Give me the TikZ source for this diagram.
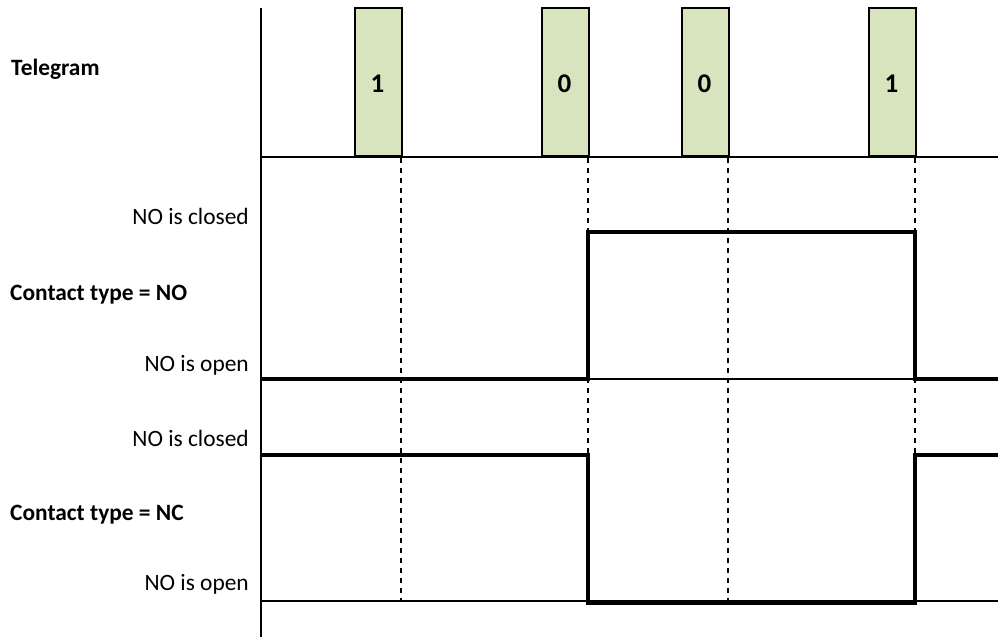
\documentclass[tikz,border=0pt]{standalone}
\usepackage{fontspec}
\setmainfont{Carlito}
\definecolor{boxgreen}{HTML}{D7E4BD}
\tikzset{
  thin line/.style={line width=2.2pt, draw=black},
  signal/.style={line width=4.4pt, draw=black, line join=miter},
  marker/.style={line width=2.2pt, draw=black, dash pattern=on 4.5pt off 5.5pt},
  bitbox/.style={draw=black, line width=2.2pt, fill=boxgreen, minimum width=47pt, minimum height=148pt, inner sep=0pt, anchor=south west},
  bit/.style={font=\fontsize{27}{32}\selectfont\bfseries, inner sep=0pt, anchor=base},
  lvl/.style={font=\fontsize{23.4}{28}\selectfont, inner sep=0pt, anchor=base east},
  head/.style={font=\fontsize{23.4}{28}\selectfont\bfseries, inner sep=0pt, anchor=base west},
}
\begin{document}
\begin{tikzpicture}[x=1pt, y=-1pt]
\useasboundingbox (0,0) rectangle (998,637);
% bit boxes
\node[bitbox] (b1) at (354,157) {};
\node[bitbox] (b2) at (541,157) {};
\node[bitbox] (b3) at (681,157) {};
\node[bitbox] (b4) at (868,157) {};
\node[bit] (d1) at (377.5,92.7) {1};
\node[bit] (d2) at (564.5,92.7) {0};
\node[bit] (d3) at (704.5,92.7) {0};
\node[bit] (d4) at (891.5,92.7) {1};
% axes
\coordinate (axtop) at (261,8);
\coordinate (axbot) at (261,637);
\coordinate (t0) at (261,157);
\coordinate (t1) at (998,157);
\coordinate (m0) at (261,379);
\coordinate (m1) at (998,379);
\coordinate (n0) at (261,601);
\coordinate (n1) at (998,601);
\draw[thin line] (axtop) -- (axbot);
\draw[thin line] (t0) -- (t1);
\draw[thin line] (m0) -- (m1);
\draw[thin line] (n0) -- (n1);
% dashed markers
\foreach \n/\x in {b1/401,b2/588,b3/728,b4/915}{
  \coordinate (\n dtop) at (\x,158);
  \coordinate (\n dbot) at (\x,601);
  \draw[marker] (\n dtop) -- (\n dbot);
}
% NO signal
\coordinate (no0) at (261,379);
\coordinate (no1) at (588,379);
\coordinate (no2) at (588,232);
\coordinate (no3) at (915,232);
\coordinate (no4) at (915,379);
\coordinate (no5) at (998,379);
\draw[signal] (no0) -- (no1) -- (no2) -- (no3) -- (no4) -- (no5);
% NC signal
\coordinate (nc0) at (261,455);
\coordinate (nc1) at (588,455);
\coordinate (nc2) at (588,603);
\coordinate (nc3) at (915,603);
\coordinate (nc4) at (915,455);
\coordinate (nc5) at (998,455);
\draw[signal] (nc0) -- (nc1) -- (nc2) -- (nc3) -- (nc4) -- (nc5);
% labels
\node[head] (tel) at (11,75) {Telegram};
\node[head] (cno) at (10,300) {Contact type = NO};
\node[head] (cnc) at (10,520) {Contact type = NC};
\node[lvl] (l1) at (249,224) {NO is closed};
\node[lvl] (l2) at (249,371) {NO is open};
\node[lvl] (l3) at (249,446) {NO is closed};
\node[lvl] (l4) at (249,590) {NO is open};
\end{tikzpicture}
\end{document}
